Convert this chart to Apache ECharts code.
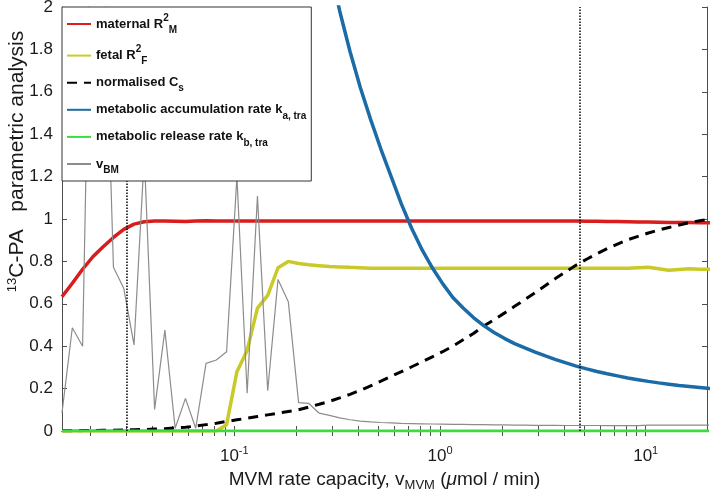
<!DOCTYPE html>
<html>
<head>
<meta charset="utf-8">
<script src="https://cdn.jsdelivr.net/npm/echarts@6/dist/echarts.min.js"></script>
<style>
  html, body { margin: 0; padding: 0; background: #fff; }
  #main { width: 711px; height: 496px; }
</style>
</head>
<body>
<div id="main"></div>
<script>
// sample points of the parametric sweep (umol/min), 20 per decade
const xValues = [
  0.01454, 0.01632, 0.01831, 0.02054, 0.02305, 0.02586, 0.02902, 0.03256, 0.03653, 0.04099,
  0.04599, 0.0516, 0.0579, 0.06496, 0.07289, 0.08178, 0.09176, 0.103, 0.1155, 0.1296,
  0.1454, 0.1632, 0.1831, 0.2054, 0.2305, 0.2586, 0.2902, 0.3256, 0.3653, 0.4099,
  0.4599, 0.516, 0.579, 0.6496, 0.7289, 0.8178, 0.9176, 1.03, 1.155, 1.296,
  1.454, 1.632, 1.831, 2.054, 2.305, 2.586, 2.902, 3.256, 3.653, 4.099,
  4.599, 5.16, 5.79, 6.496, 7.289, 8.178, 9.176, 10.3, 11.55, 12.96,
  14.54, 16.32, 18.31, 20.54
];

const maternal = [
  0.633, 0.697, 0.763, 0.822, 0.869, 0.913, 0.951, 0.976, 0.987, 0.99,
  0.99, 0.989, 0.988, 0.99, 0.992, 0.991, 0.99, 0.99, 0.99, 0.99,
  0.99, 0.99, 0.99, 0.99, 0.99, 0.99, 0.99, 0.99, 0.99, 0.99,
  0.99, 0.99, 0.99, 0.99, 0.99, 0.99, 0.99, 0.99, 0.99, 0.99,
  0.99, 0.99, 0.99, 0.99, 0.99, 0.99, 0.99, 0.99, 0.99, 0.99,
  0.99, 0.989, 0.989, 0.988, 0.988, 0.987, 0.986, 0.986, 0.985, 0.984,
  0.983, 0.983, 0.982, 0.982
];

const fetal = [
  0, 0, 0, 0, 0, 0, 0, 0, 0, 0,
  0, 0, 0, 0, 0, 0, 0.03, 0.28, 0.38, 0.58,
  0.64, 0.77, 0.80, 0.79, 0.784, 0.78, 0.776, 0.774, 0.772, 0.77,
  0.768, 0.768, 0.768, 0.768, 0.768, 0.768, 0.768, 0.768, 0.768, 0.768,
  0.768, 0.768, 0.768, 0.768, 0.768, 0.768, 0.768, 0.768, 0.768, 0.768,
  0.768, 0.768, 0.768, 0.768, 0.768, 0.768, 0.77, 0.772, 0.765, 0.758,
  0.762, 0.765, 0.763, 0.763
];

const normalisedCs = [
  0.001, 0.001, 0.002, 0.002, 0.003, 0.004, 0.005, 0.006, 0.007, 0.009,
  0.011, 0.014, 0.018, 0.023, 0.03, 0.037, 0.045, 0.053, 0.06, 0.068,
  0.076, 0.084, 0.092, 0.10, 0.113, 0.126, 0.14, 0.156, 0.173, 0.192,
  0.213, 0.235, 0.258, 0.28, 0.303, 0.326, 0.35, 0.374, 0.40, 0.43,
  0.46, 0.495, 0.525, 0.556, 0.588, 0.62, 0.653, 0.686, 0.72, 0.752,
  0.783, 0.81, 0.836, 0.86, 0.882, 0.902, 0.918, 0.934, 0.948, 0.96,
  0.972, 0.983, 0.992, 0.998
];

const accumRate = [
  null, null, null, null, null, null, null, null, null, null,
  null, null, null, null, null, null, null, null, null, null,
  null, null, null, null, null, 2.45, 2.2, 1.98, 1.79, 1.62,
  1.47, 1.33, 1.20, 1.07, 0.955, 0.855, 0.77, 0.695, 0.63, 0.58,
  0.535, 0.497, 0.465, 0.437, 0.412, 0.392, 0.372, 0.354, 0.337, 0.321,
  0.306, 0.293, 0.281, 0.27, 0.26, 0.25, 0.242, 0.234, 0.227, 0.221,
  0.215, 0.21, 0.205, 0.2
];

const releaseRate = [
  0, 0, 0, 0, 0, 0, 0, 0, 0, 0,
  0, 0, 0, 0, 0, 0, 0, 0, 0, 0,
  0, 0, 0, 0, 0, 0, 0, 0, 0, 0,
  0, 0, 0, 0, 0, 0, 0, 0, 0, 0,
  0, 0, 0, 0, 0, 0, 0, 0, 0, 0,
  0, 0, 0, 0, 0, 0, 0, 0, 0, 0,
  0, 0, 0, 0
];

const vBM = [
  0.085, 0.487, 0.40, 2.9, 2.4, 0.772, 0.673, 0.406, 1.3, 0.102,
  0.476, 0.013, 0.154, 0.013, 0.319, 0.335, 0.374, 1.2, 0.178, 1.108,
  0.19, 0.715, 0.61, 0.134, 0.13, 0.084, 0.074, 0.062, 0.053, 0.047,
  0.043, 0.04, 0.038, 0.036, 0.035, 0.034, 0.033, 0.032, 0.031, 0.031,
  0.03, 0.03, 0.029, 0.029, 0.028, 0.028, 0.027, 0.027, 0.027, 0.026,
  0.026, 0.026, 0.026, 0.025, 0.025, 0.025, 0.025, 0.028, 0.028, 0.028,
  0.028, 0.028, 0.028, 0.028
];

const seriesNames = ['maternal', 'fetal', 'normalised', 'accumulation', 'release', 'vBM'];
const legendLabels = {
  maternal: '{n|maternal R}{sup|2}{sub|M}',
  fetal: '{n|fetal R}{sup|2}{sub|F}',
  normalised: '{n|normalised C}{sub|s}',
  accumulation: '{n|metabolic accumulation rate k}{sub|a, tra}',
  release: '{n|metabolic release rate k}{sub|b, tra}',
  vBM: '{n|v}{sub|BM}'
};

// axis ticks / labels
const xMin = 0.01454;
const xMax = 19.86;
const xLabelValues = [0.1, 1, 10];
const xTickValues = [
  0.02, 0.03, 0.04, 0.05, 0.06, 0.07, 0.08, 0.09,
  0.1, 0.2, 0.3, 0.4, 0.5, 0.6, 0.7, 0.8, 0.9,
  1, 2, 3, 4, 5, 6, 7, 8, 9, 10
];
const markerX = [0.0309, 4.8];

const font = '"Liberation Sans", Arial, Helvetica, sans-serif';
const axisColor = '#4d4d4d';

function pairs(ys) {
  return xValues.map(function (x, i) { return [x, ys[i]]; });
}

const chart = echarts.init(document.getElementById('main'), null, { renderer: 'canvas' });

const logAxis = {
  type: 'log',
  logBase: 10,
  min: xMin,
  max: xMax,
  axisLine: { show: true, lineStyle: { color: axisColor, width: 1 } },
  axisTick: { show: true, inside: true, length: 5, customValues: xTickValues, lineStyle: { color: axisColor } },
  splitLine: { show: false },
  minorTick: { show: false },
  minorSplitLine: { show: false }
};

const valAxis = {
  type: 'value',
  min: 0,
  max: 2,
  interval: 0.2,
  axisLine: { show: true, lineStyle: { color: axisColor, width: 1 } },
  axisTick: { show: true, inside: true, length: 5, lineStyle: { color: axisColor } },
  splitLine: { show: false }
};

const lineBase = { type: 'line', symbol: 'none', showSymbol: false, animation: false, z: 2 };

const option = {
  animation: false,
  backgroundColor: '#fff',
  textStyle: { fontFamily: font },
  grid: { left: 62, right: 4, top: 7, bottom: 65, containLabel: false, outerBoundsMode: 'none' },
  legend: {
    data: seriesNames,
    orient: 'vertical',
    left: 62,
    top: 7,
    padding: [6, 5, 6, 4],
    itemGap: 9.6,
    itemWidth: 24,
    itemHeight: 12,
    backgroundColor: '#fff',
    borderColor: '#333',
    borderWidth: 1,
    borderRadius: 0,
    selectedMode: false,
    z: 10,
    itemStyle: { opacity: 0 },
    formatter: function (name) { return legendLabels[name]; },
    textStyle: {
      color: '#111',
      fontFamily: font,
      fontWeight: 'bold',
      fontSize: 13,
      rich: {
        n: { fontSize: 13, fontWeight: 'bold', lineHeight: 22, fontFamily: font, color: '#111' },
        sup: { fontSize: 10, fontWeight: 'bold', lineHeight: 10, verticalAlign: 'top', fontFamily: font, color: '#111' },
        sub: { fontSize: 10, fontWeight: 'bold', lineHeight: 10, verticalAlign: 'bottom', fontFamily: font, color: '#111' }
      }
    }
  },
  xAxis: [
    Object.assign({}, logAxis, {
      position: 'bottom',
      axisLabel: {
        customValues: xLabelValues,
        margin: 14,
        color: '#1a1a1a',
        formatter: function (v) {
          return '{b|10}{s|' + Math.round(Math.log10(v)) + '}';
        },
        rich: {
          b: { fontSize: 17, lineHeight: 22, fontFamily: font, color: '#1a1a1a' },
          s: { fontSize: 11, lineHeight: 11, verticalAlign: 'top', fontFamily: font, color: '#1a1a1a' }
        }
      },
      name: '{n|MVM rate capacity, v}{sub|MVM}{n| (}{mu|\u03bc}{n|mol / min)}',
      nameLocation: 'middle',
      nameGap: 37,
      nameMoveOverlap: false,
      nameTextStyle: {
        rich: {
          n: { fontSize: 19, lineHeight: 24, fontFamily: font, color: '#1a1a1a' },
          sub: { fontSize: 13, lineHeight: 10, verticalAlign: 'bottom', fontFamily: font, color: '#1a1a1a' },
          mu: { fontSize: 19, lineHeight: 24, fontStyle: 'italic', fontFamily: font, color: '#1a1a1a' }
        }
      }
    }),
    Object.assign({}, logAxis, { position: 'top', axisLabel: { show: false } })
  ],
  yAxis: [
    Object.assign({}, valAxis, {
      position: 'left',
      axisLabel: { fontSize: 17, color: '#1a1a1a', margin: 9, fontFamily: font },
      name: '{s|13}{n|C-PA   parametric analysis}',
      nameLocation: 'middle',
      nameGap: 34,
      nameRotate: 90,
      nameMoveOverlap: false,
      nameTextStyle: {
        padding: [0, 0, 0, 115],
        rich: {
          n: { fontSize: 21, lineHeight: 22, fontFamily: font, color: '#1a1a1a' },
          s: { fontSize: 13, lineHeight: 12, verticalAlign: 'top', fontFamily: font, color: '#1a1a1a' }
        }
      }
    }),
    Object.assign({}, valAxis, { position: 'right', axisLabel: { show: false } })
  ],
  series: [
    Object.assign({}, lineBase, {
      name: 'maternal', data: pairs(maternal),
      lineStyle: { color: '#d91c1c', width: 3.5 }, itemStyle: { color: '#d91c1c' }
    }),
    Object.assign({}, lineBase, {
      name: 'fetal', data: pairs(fetal),
      lineStyle: { color: '#c9c92a', width: 3.5 }, itemStyle: { color: '#c9c92a' }
    }),
    Object.assign({}, lineBase, {
      name: 'normalised', data: pairs(normalisedCs),
      lineStyle: { color: '#000', width: 3, type: [10, 7] }, itemStyle: { color: '#000' }
    }),
    Object.assign({}, lineBase, {
      name: 'accumulation', data: pairs(accumRate),
      lineStyle: { color: '#1b6ba6', width: 3.5 }, itemStyle: { color: '#1b6ba6' }
    }),
    Object.assign({}, lineBase, {
      name: 'release', data: pairs(releaseRate),
      lineStyle: { color: '#3ddc3d', width: 3 }, itemStyle: { color: '#3ddc3d' },
      markLine: {
        silent: true,
        symbol: ['none', 'none'],
        label: { show: false },
        lineStyle: { color: '#000', width: 1.5, type: 'dotted' },
        data: markerX.map(function (v) { return { xAxis: v }; })
      }
    }),
    Object.assign({}, lineBase, {
      name: 'vBM', data: pairs(vBM),
      lineStyle: { color: '#8c8c8c', width: 1.2 }, itemStyle: { color: '#8c8c8c' }
    })
  ]
};

chart.setOption(option);
</script>
</body>
</html>
